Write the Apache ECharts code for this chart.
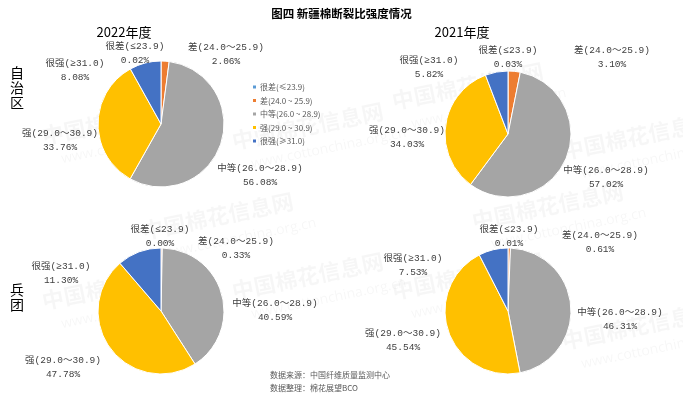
<!DOCTYPE html>
<html><head><meta charset="utf-8">
<script src="https://cdn.jsdelivr.net/npm/echarts@6/dist/echarts.min.js"></script>
<style>html,body{margin:0;padding:0;background:#fff}#c{width:683px;height:396px}</style>
</head><body><div id="c"></div>
<script>
const categories = ['很差(≤23.9)', '差(24.0～25.9)', '中等(26.0～28.9)', '强(29.0～30.9)', '很强(≥31.0)'];
const legendLabels = ['很差(≤23.9)', '差(24.0 ~ 25.9)', '中等(26.0 ~ 28.9)', '强(29.0 ~ 30.9)', '很强(≥31.0)'];
const xinjiang2022 = [0.02, 2.06, 56.08, 33.76, 8.08];
const xinjiang2021 = [0.03, 3.10, 57.02, 34.03, 5.82];
const bingtuan2022 = [0.00, 0.33, 40.59, 47.78, 11.30];
const bingtuan2021 = [0.01, 0.61, 46.31, 45.54, 7.53];
const colors = ['#5B9BD5', '#ED7D31', '#A5A5A5', '#FFC000', '#4472C4'];

const chart = echarts.init(document.getElementById('c'));
const labelFont = '"Liberation Mono", "Noto Sans CJK SC", monospace';
// label placement (offset of label centre from pie centre), styling only
const labelOffsets = {
  tl: [[-26,-71],[65,-70],[99,51],[-101,16],[-86,-54]],
  tr: [[0,-77],[104,-77],[98,43],[-101,3],[-79,-67]],
  bl: [[-1,-75],[75,-63],[114,-1],[-98,56],[-100,-38]],
  br: [[1,-75],[92,-69],[112,8],[-105,29],[-95,-46]]
};
function mk(vals, center, key) {
  return {
    type: 'pie', radius: 63, center: center, startAngle: 90, clockwise: true,
    avoidLabelOverlap: false, minShowLabelAngle: 0, stillShowZeroSum: true,
    itemStyle: { borderColor: '#fff', borderWidth: 1 },
    label: {
      show: true, position: 'outside', color: '#404040', fontSize: 9.5, fontFamily: labelFont,
      lineHeight: 14, align: 'center',
      formatter: p => p.name + '\n' + p.value.toFixed(2) + '%'
    },
    labelLine: { show: false },
    labelLayout: p => {
      const o = labelOffsets[key][p.dataIndex];
      return { x: center[0] + o[0], y: center[1] + o[1], align: 'center', verticalAlign: 'middle', hideOverlap: false, moveOverlap: null };
    },
    emphasis: { disabled: true },
    data: categories.map((c, i) => ({ name: c, value: vals[i] }))
  };
}
const wm = [];
[[40,95],[230,100],[390,60],[560,110],[40,260],[230,250],[390,250],[560,300],[140,190],[470,180]].forEach(([x,y]) => {
  wm.push({ type: 'text', left: x, top: y, rotation: 0.2, z: -1,
    style: { text: '中国棉花信息网', fill: 'rgba(0,0,0,0.035)', font: 'bold 22px "Noto Sans CJK SC"' } });
  wm.push({ type: 'text', left: x + 20, top: y + 26, rotation: 0.2, z: -1,
    style: { text: 'www.cottonchina.org.cn', fill: 'rgba(0,0,0,0.035)', font: '14px "Open Sans"' } });
});
chart.setOption({
  animation: false,
  color: colors,
  title: [
    { text: '图四 新疆棉断裂比强度情况', left: 'center', top: 3, textStyle: { fontSize: 11.5, fontWeight: 'bold', color: '#000', fontFamily: '"Noto Sans CJK SC"' } },
    { text: '2022年度', left: 119, top: 21, textAlign: 'center', textStyle: { fontSize: 13, fontWeight: 'normal', color: '#000', fontFamily: '"Noto Sans CJK SC"' } },
    { text: '2021年度', left: 457, top: 21, textAlign: 'center', textStyle: { fontSize: 13, fontWeight: 'normal', color: '#000', fontFamily: '"Noto Sans CJK SC"' } },
    { text: '自\n治\n区', left: 5, top: 60, textStyle: { fontSize: 14, lineHeight: 15, fontWeight: 'normal', color: '#000', fontFamily: '"Noto Sans CJK SC"' } },
    { text: '兵\n团', left: 5, top: 277, textStyle: { fontSize: 14, lineHeight: 15, fontWeight: 'normal', color: '#000', fontFamily: '"Noto Sans CJK SC"' } },
    { text: '数据来源：中国纤维质量监测中心\n数据整理：棉花展望BCO', left: 265, top: 363, textStyle: { fontSize: 8, lineHeight: 13, fontWeight: 'normal', color: '#595959', fontFamily: '"Noto Sans CJK SC"' } }
  ],
  legend: {
    orient: 'vertical', left: 246, top: 78, itemWidth: 5, itemHeight: 5, itemGap: 5.5,
    icon: 'rect', data: categories,
    formatter: n => legendLabels[categories.indexOf(n)],
    textStyle: { fontSize: 8, color: '#595959', fontFamily: '"Noto Sans CJK SC"', padding: [0,0,0,-2] }
  },
  graphic: wm,
  series: [
    mk(xinjiang2022, [161, 124], 'tl'),
    mk(xinjiang2021, [508, 134], 'tr'),
    mk(bingtuan2022, [161, 311], 'bl'),
    mk(bingtuan2021, [508, 311], 'br')
  ]
});
</script></body></html>
